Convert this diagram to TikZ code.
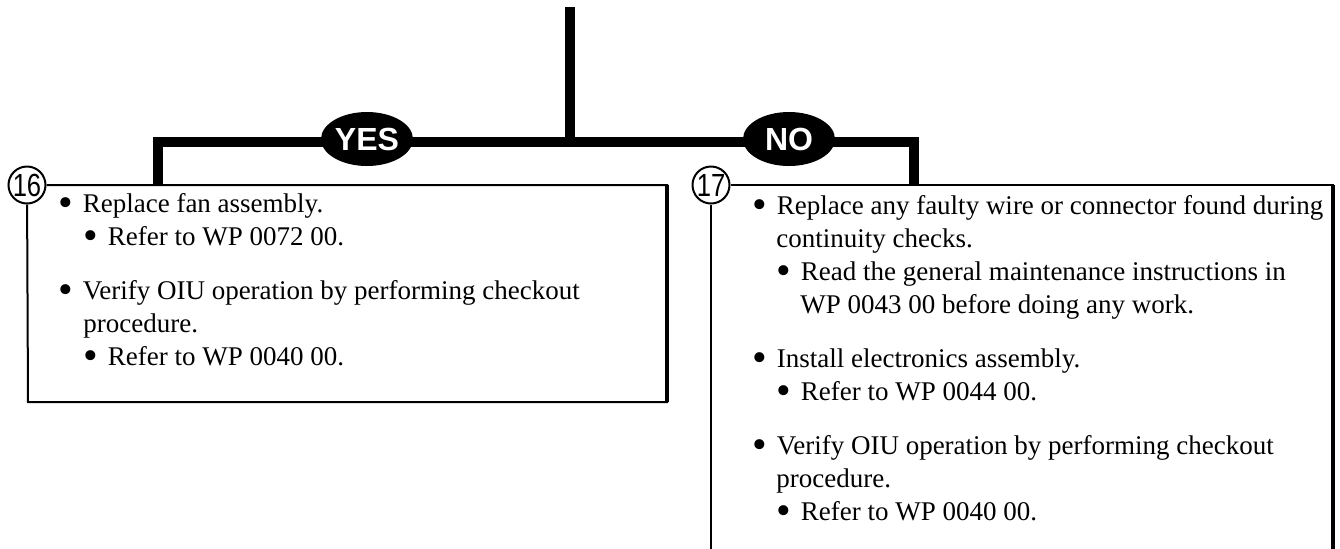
\documentclass[tikz,border=0pt]{standalone}
\usepackage{fontspec}
\setmainfont{Liberation Serif}
\newfontfamily\labfont{Liberation Sans}
\usetikzlibrary{shapes.geometric}

\newcommand{\blt}{\makebox[12.2pt][l]{\raisebox{-0.16em}{\scalebox{1.55}{\textbullet}}}}
\tikzset{
  trunk/.style={line width=5pt, line join=miter, line cap=butt},
  boxline/.style={line width=1pt},
  answer/.style={ellipse, fill=black, text=white, inner sep=0pt,
    minimum width=46pt, minimum height=27pt,
    font=\labfont\bfseries\fontsize{16}{16}\selectfont},
  tag/.style={circle, draw, fill=white, line width=1pt, inner sep=0pt,
    minimum size=18.5pt, font=\labfont\fontsize{16}{16}\selectfont},
  txt/.style={anchor=base west, inner sep=0pt,
    font=\fontsize{13.5}{16.5}\selectfont}
}

\begin{document}
\begin{tikzpicture}[x=0.5pt, y=-0.5pt]
        \useasboundingbox (0,0) rectangle (1340,548);
        \clip (0,0) rectangle (1340,548);
        % ==== TREE ====
        \coordinate (top) at (570,7);
        \coordinate (jn) at (570,142);
        \coordinate (lcorner) at (158,142);
        \coordinate (rcorner) at (914,142);
        \coordinate (lbox-tr) at (667,184);
        \coordinate (lbox-br) at (667,402);
        \coordinate (lbox-bl) at (28,402);
        \coordinate (rbox-tr) at (1333,184);
        \coordinate (rbox-br) at (1333,570);
        \coordinate (rbox-bl) at (711,570);
        \draw[trunk] (top) -- (jn);
        \draw[trunk] (lcorner |- lbox-tr) -- (lcorner) -- (rcorner) -- (rcorner |- rbox-tr);
        \node[answer] (yes) at (367,139) {YES};
        \node[answer] (no) at (789,139) {NO};

        % ==== LEFT BOX ====
        \node[tag] (n16) at (27,185) {\scalebox{0.8}[1]{16}};
        \draw[boxline] (n16) -- (lbox-tr |- n16) -- (lbox-br) -- (lbox-bl) -- (n16);
        \draw[line width=1.6pt] (lbox-tr |- n16) -- (lbox-br);
        \node[txt] (l1) at (58,212) {\blt Replace fan assembly.};
        \node[txt] (l2) at (83,245) {\blt Refer to WP 0072 00.};
        \node[txt] (l3) at (58,299) {\blt Verify OIU operation by performing checkout};
        \node[txt] (l4) at (83,332) {procedure.};
        \node[txt] (l5) at (83,365) {\blt Refer to WP 0040 00.};

        % ==== RIGHT BOX ====
        \node[tag] (n17) at (711,185) {\scalebox{0.8}[1]{17}};
        \draw[boxline] (n17) -- (rbox-tr |- n17) -- (rbox-br);
        \draw[boxline] (rbox-bl) -- (n17);
        \draw[line width=1.6pt] (rbox-tr |- n17) -- (rbox-br);
        \node[txt] (r1) at (752,214) {\blt Replace any faulty wire or connector found during};
        \node[txt] (r2) at (776,247) {continuity checks.};
        \node[txt] (r3) at (776,280) {\blt Read the general maintenance instructions in};
        \node[txt] (r4) at (800,313) {WP 0043 00 before doing any work.};
        \node[txt] (r5) at (752,367) {\blt Install electronics assembly.};
        \node[txt] (r6) at (776,400) {\blt Refer to WP 0044 00.};
        \node[txt] (r7) at (752,454) {\blt Verify OIU operation by performing checkout};
        \node[txt] (r8) at (776,487) {procedure.};
        \node[txt] (r9) at (776,520) {\blt Refer to WP 0040 00.};
\end{tikzpicture}
\end{document}
